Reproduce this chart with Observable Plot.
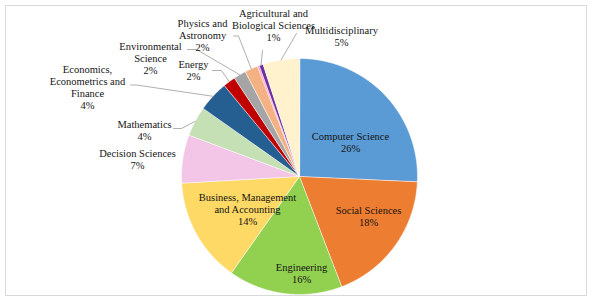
<!DOCTYPE html>
<html>
<head>
<meta charset="utf-8">
<script src="https://cdn.jsdelivr.net/npm/d3@7"></script>
<script src="https://cdn.jsdelivr.net/npm/@observablehq/plot@0.6"></script>
<style>
  html, body { margin: 0; padding: 0; background: #fff; }
</style>
</head>
<body>
<div id="chart"></div>
<script>
// ---- data (clockwise from 12 o'clock) ----
const categories = [
  "Computer Science", "Social Sciences", "Engineering",
  "Business, Management and Accounting", "Decision Sciences", "Mathematics",
  "Economics, Econometrics and Finance", "Energy", "Environmental Science",
  "Physics and Astronomy", "(unlabelled)", "Agricultural and Biological Sciences",
  "Multidisciplinary"
];
const shares = [25.7, 18.45, 15.6, 14.3, 6.6, 4.1, 4.2, 1.7, 1.7, 1.8, 0.25, 0.55, 5.0];
const labelLines = [
  "Computer Science", "Social Sciences", "Engineering",
  "Business, Management\nand Accounting", "Decision Sciences", "Mathematics",
  "Economics,\nEconometrics and\nFinance", "Energy", "Environmental\nScience",
  "Physics and\nAstronomy", "", "Agricultural and\nBiological Sciences",
  "Multidisciplinary"
];
const colors = [
  "#5b9bd5", "#ed7d31", "#92d050", "#ffd966", "#f3c5e6", "#c5e0b4",
  "#255e91", "#c00000", "#a5a5a5", "#f4b183", "#ff99cc", "#7030a0", "#fff2cc"
];

// ---- layout (pixels relative to the pie centre, y downwards) ----
const R = 118;
const labelOffsets = [
  [51, -34], [69, 39.5], [2, 97], [-52, 33], [-162, -17], [-155, -46],
  [-212, -89], [-106, -106], [-149, -118], [-97, -141.5], null, [-26, -151], [42, -140.5]
];
const leaderBends = [
  null, null, null, null, null,
  [[-118, -48], [-126, -48]],
  [[-163, -91.5], [-169, -91.5]],
  [[-78, -106], [-87, -106]],
  [[-103, -127], [-112, -127]],
  [[-61, -140.5], [-66, -140.5]],
  null,
  [[-37, -126]],
  [[-3, -143]]
];

// ---- derived geometry ----
const total = d3.sum(shares);
const arcs = d3.pie().sort(null).value(d => d)(shares);

const slicePts = [];
arcs.forEach((p, i) => {
  const n = Math.max(2, Math.ceil((p.endAngle - p.startAngle) / (Math.PI / 360)));
  slicePts.push({ name: categories[i], x: 0, y: 0 });
  for (let k = 0; k <= n; k++) {
    const a = p.startAngle + (p.endAngle - p.startAngle) * k / n;
    slicePts.push({ name: categories[i], x: R * Math.sin(a), y: -R * Math.cos(a) });
  }
});

const leaderPts = [];
arcs.forEach((p, i) => {
  if (!leaderBends[i]) return;
  const m = (p.startAngle + p.endAngle) / 2;
  leaderPts.push({ name: categories[i], x: R * Math.sin(m), y: -R * Math.cos(m) });
  leaderBends[i].forEach(([x, y]) => leaderPts.push({ name: categories[i], x, y }));
});

const labels = categories.map((c, i) => labelOffsets[i] ? ({
  name: c,
  x: labelOffsets[i][0],
  y: labelOffsets[i][1],
  text: `${labelLines[i]}\n${Math.round(shares[i] / total * 100)}%`
}) : null).filter(d => d);

const serif = "'Times New Roman', 'Liberation Serif', 'DejaVu Serif', serif";

const chart = Plot.plot({
  width: 592,
  height: 300,
  marginTop: 5, marginLeft: 5, marginRight: 6, marginBottom: 5,
  x: { domain: [-294, 287], range: [5, 586], axis: null },
  y: { domain: [-171, 119], range: [5, 295], axis: null },
  color: { domain: categories, range: colors },
  style: { fontFamily: serif, fontSize: "10.5px", background: "#fff", overflow: "visible" },
  marks: [
    Plot.frame({ stroke: "#d9d9d9", strokeWidth: 1 }),
    Plot.line(slicePts, { x: "x", y: "y", z: "name", fill: "name", stroke: "#ffffff", strokeOpacity: 0.55, strokeWidth: 1, curve: "linear-closed" }),
    Plot.line(leaderPts, { x: "x", y: "y", z: "name", stroke: "#a6a6a6", strokeWidth: 0.9 }),
    Plot.text(labels, { x: "x", y: "y", text: "text", fill: "#141414", fontSize: 10.5, lineHeight: 1.15, fontFamily: serif })
  ]
});
document.getElementById("chart").appendChild(chart);
</script>
</body>
</html>
